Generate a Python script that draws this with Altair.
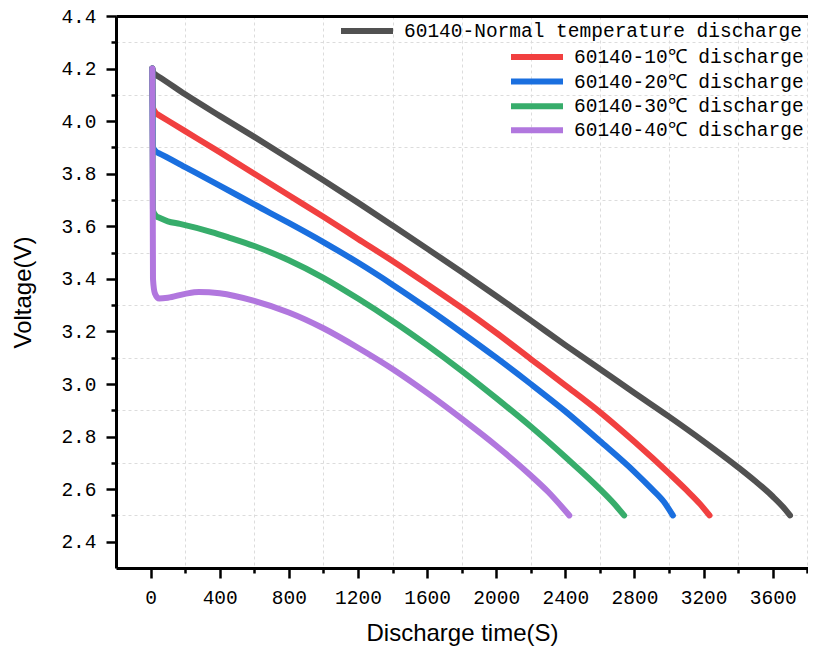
import altair as alt
import pandas as pd

# ---- data ----
names = [
    "60140-Normal temperature discharge",
    "60140-10℃ discharge",
    "60140-20℃ discharge",
    "60140-30℃ discharge",
    "60140-40℃ discharge",
]
colors = ["#515151", "#F14040", "#1A6FDF", "#37AD6B", "#B177DE"]

time_normal = [10, 15, 35, 45, 200, 400, 600, 800, 1000, 1200, 1400, 1600, 1800, 2000,
               2200, 2400, 2600, 2800, 3000, 3200, 3400, 3500, 3600, 3660, 3700]
volt_normal = [4.20, 4.186, 4.174, 4.170, 4.102, 4.02, 3.94, 3.858, 3.775, 3.69, 3.603,
               3.515, 3.426, 3.335, 3.242, 3.148, 3.057, 2.966, 2.876, 2.782, 2.683, 2.63,
               2.572, 2.532, 2.50]

time_m10 = [10, 14, 35, 45, 200, 400, 600, 800, 1000, 1200, 1400, 1600, 1800, 2000, 2200,
            2400, 2600, 2800, 3000, 3100, 3180, 3234]
volt_m10 = [4.20, 4.05, 4.028, 4.024, 3.962, 3.882, 3.80, 3.718, 3.636, 3.552, 3.468,
            3.38, 3.29, 3.195, 3.095, 2.995, 2.893, 2.78, 2.66, 2.597, 2.543, 2.50]

time_m20 = [10, 14, 35, 45, 200, 400, 600, 800, 1000, 1200, 1400, 1600, 1800, 2000, 2200,
            2400, 2600, 2800, 2900, 2970, 3022]
volt_m20 = [4.20, 3.90, 3.882, 3.879, 3.825, 3.755, 3.683, 3.613, 3.54, 3.462, 3.378,
            3.289, 3.196, 3.10, 3.00, 2.896, 2.783, 2.666, 2.601, 2.552, 2.50]

time_m30 = [10, 14, 35, 45, 100, 170, 353, 450, 600, 800, 1000, 1200, 1400, 1600, 1800,
            2000, 2200, 2400, 2600, 2680, 2740]
volt_m30 = [4.20, 3.66, 3.637, 3.634, 3.619, 3.609, 3.578, 3.558, 3.525, 3.471, 3.404,
            3.325, 3.24, 3.148, 3.05, 2.946, 2.838, 2.722, 2.60, 2.546, 2.50]

time_m40 = [10, 14, 25, 50, 100, 200, 280, 400, 600, 800, 1000, 1200, 1400, 1600,
            1800, 2000, 2200, 2300, 2423]
volt_m40 = [4.20, 3.40, 3.345, 3.325, 3.328, 3.343, 3.35, 3.345, 3.316, 3.272, 3.212,
            3.138, 3.057, 2.966, 2.868, 2.765, 2.652, 2.59, 2.50]

x_major = [0, 400, 800, 1200, 1600, 2000, 2400, 2800, 3200, 3600]
x_minor = [200, 600, 1000, 1400, 1800, 2200, 2600, 3000, 3400, 3800]
y_major = [2.4, 2.6, 2.8, 3.0, 3.2, 3.4, 3.6, 3.8, 4.0, 4.2, 4.4]
y_minor = [2.5, 2.7, 2.9, 3.1, 3.3, 3.5, 3.7, 3.9, 4.1, 4.3]

series = [
    (time_normal, volt_normal),
    (time_m10, volt_m10),
    (time_m20, volt_m20),
    (time_m30, volt_m30),
    (time_m40, volt_m40),
]
legend_pos = [(222, -14), (392, 12), (392, 36.6), (392, 61.2), (392, 85.3)]

# ---- styling ----
MONO = "Liberation Mono"
SANS = "Liberation Sans"
xscale = alt.Scale(domain=[-200, 3804], nice=False, zero=False)
yscale = alt.Scale(domain=[2.3, 4.4], nice=False, zero=False)

layers = []
for (t, v), name, col, (lx, ly) in zip(series, names, colors, legend_pos):
    df = pd.DataFrame({"t": t, "v": v, "series": name})
    layers.append(
        alt.Chart(df).mark_line(strokeWidth=6, strokeCap="round", strokeJoin="round",
                                interpolate="monotone").encode(
            x=alt.X("t:Q", scale=xscale, axis=None),
            y=alt.Y("v:Q", scale=yscale, axis=None),
            stroke=alt.Stroke("series:N", scale=alt.Scale(domain=[name], range=[col]),
                              legend=alt.Legend(orient="none", legendX=lx, legendY=ly,
                                                title=None, padding=0,
                                                symbolType="stroke", symbolSize=2704,
                                                symbolStrokeWidth=6, labelOffset=8,
                                                labelFont=MONO, labelFontSize=19.5,
                                                labelColor="black", labelLimit=0)),
        )
    )

base_df = pd.DataFrame({"t": time_normal, "v": volt_normal})

major = alt.Chart(base_df).mark_line(strokeOpacity=0).encode(
    x=alt.X("t:Q", scale=xscale, axis=alt.Axis(
        orient="bottom", values=x_major, format="d", title="Discharge time(S)",
        domain=True, domainColor="black", domainWidth=3,
        ticks=True, tickColor="black", tickWidth=2.5, tickSize=10,
        labelFont=MONO, labelFontSize=19.5, labelColor="black", labelPadding=10,
        labelFlush=False, labelOverlap=False,
        titleFont=SANS, titleFontSize=24, titleFontWeight="normal",
        titleColor="black", titlePadding=15, grid=False)),
    y=alt.Y("v:Q", scale=yscale, axis=alt.Axis(
        orient="left", values=y_major, format=".1f", title="Voltage(V)",
        domain=True, domainColor="black", domainWidth=3,
        ticks=True, tickColor="black", tickWidth=2.5, tickSize=10,
        labelFont=MONO, labelFontSize=19.5, labelColor="black", labelPadding=10,
        labelFlush=False, labelOverlap=False,
        titleFont=SANS, titleFontSize=24, titleFontWeight="normal",
        titleColor="black", titlePadding=25, grid=False)),
)

minor = alt.Chart(base_df).mark_line(strokeOpacity=0).encode(
    x=alt.X("t:Q", scale=xscale, axis=alt.Axis(
        orient="bottom", values=x_minor, title=None, labels=False, domain=False,
        ticks=True, tickColor="black", tickWidth=2.5, tickSize=5,
        grid=True, gridColor="#dcdcdc", gridDash=[3, 3], gridWidth=1)),
    y=alt.Y("v:Q", scale=yscale, axis=alt.Axis(
        orient="left", values=y_minor, title=None, labels=False, domain=False,
        ticks=True, tickColor="black", tickWidth=2.5, tickSize=5,
        grid=True, gridColor="#dcdcdc", gridDash=[3, 3], gridWidth=1)),
)

top = alt.Chart(base_df).mark_line(strokeOpacity=0).encode(
    x=alt.X("t:Q", scale=xscale, axis=alt.Axis(
        orient="top", title=None, labels=False, ticks=False, grid=False,
        domain=True, domainColor="black", domainWidth=3)),
    y=alt.Y("v:Q", scale=yscale, axis=None),
)

chart = alt.layer(minor, major, top, *layers).resolve_axis(
    x="independent", y="independent"
).resolve_scale(stroke="independent").resolve_legend(stroke="independent").properties(
    width=692, height=552,
    autosize=alt.AutoSizeParams(type="none"),
    padding={"left": 108, "top": 8, "right": 0, "bottom": 80},
).configure_view(stroke=None).configure(background="white")

chart.save("out.html", embed_options={"renderer": "svg", "actions": False})
